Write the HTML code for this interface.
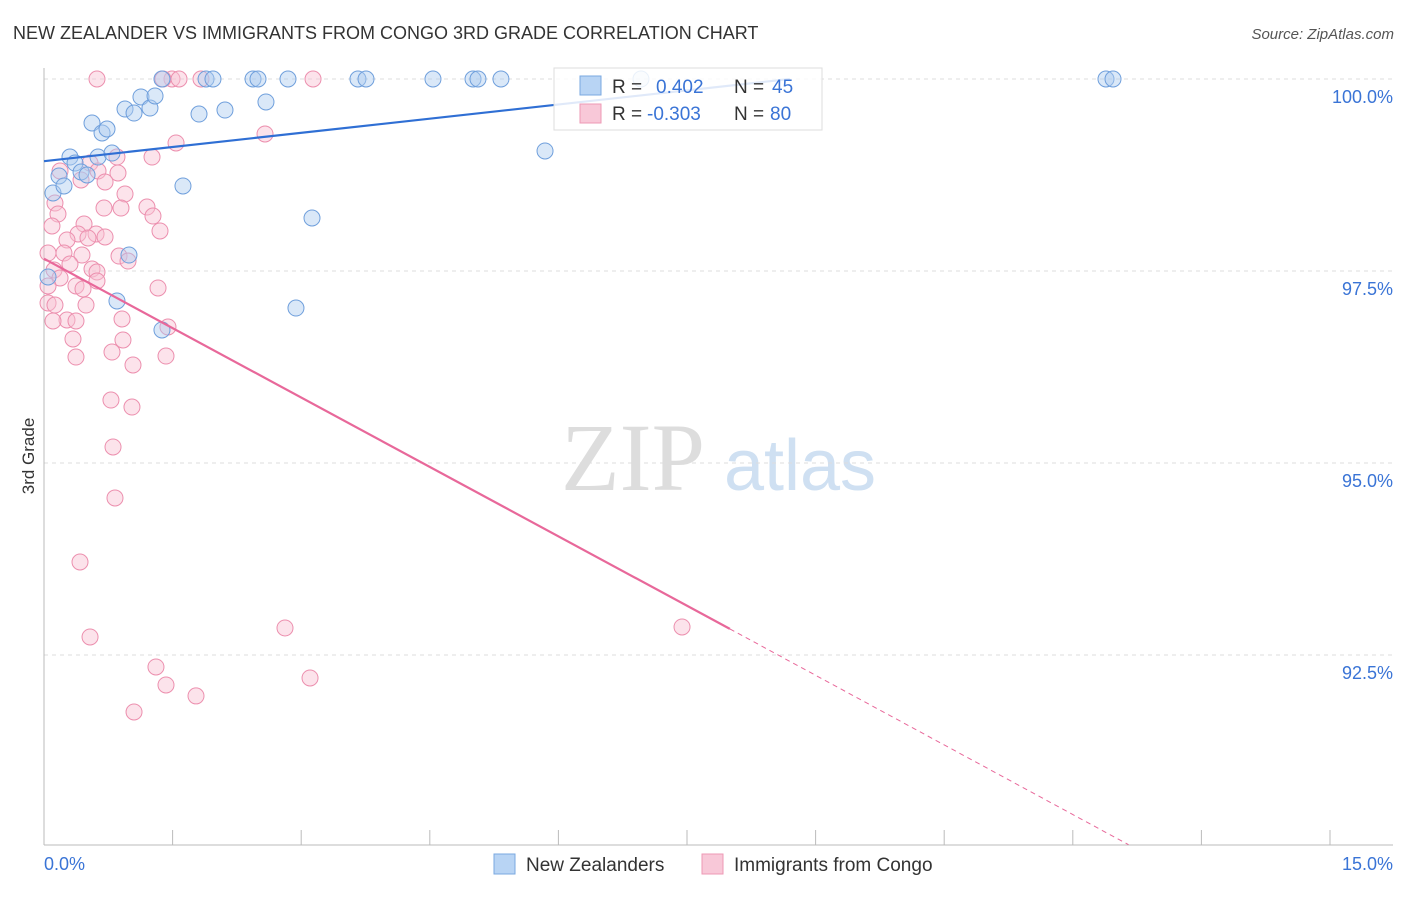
<!DOCTYPE html>
<html><head><meta charset="utf-8"><style>
body{margin:0;background:#fff;width:1406px;height:892px;overflow:hidden;font-family:"Liberation Sans",sans-serif}
</style></head><body>
<svg id="chart" width="1406" height="892">
<text x="13" y="39" font-size="18" fill="#333">NEW ZEALANDER VS IMMIGRANTS FROM CONGO 3RD GRADE CORRELATION CHART</text>
<text x="1394" y="39" font-size="15" fill="#555" text-anchor="end" font-style="italic">Source: ZipAtlas.com</text>
<text transform="translate(34,456) rotate(-90)" font-size="17" fill="#333" text-anchor="middle">3rd Grade</text>
<g><text x="633" y="490" font-size="96" font-family="Liberation Serif,serif" fill="#ddd" text-anchor="middle">ZIP</text><text x="800" y="490" font-size="72" fill="#cfe0f2" text-anchor="middle">atlas</text></g>
<g id="grid"></g><g id="axes"></g><g id="pts"></g><g id="lines"></g>
<g>
<rect x="554" y="68" width="268" height="62" fill="#fff" fill-opacity="0.85" stroke="#ddd"/>
<rect x="580" y="76" width="21" height="19" fill="#b8d4f4" stroke="#7aa8e0"/>
<rect x="580" y="104" width="21" height="19" fill="#f8c8d8" stroke="#ee99b5"/>
<text x="612" y="93" font-size="19" fill="#333">R =</text>
<text x="656" y="93" font-size="19" fill="#3a74d6">0.402</text>
<text x="734" y="93" font-size="19" fill="#333">N =</text>
<text x="772" y="93" font-size="19" fill="#3a74d6">45</text>
<text x="612" y="120" font-size="19" fill="#333">R =</text>
<text x="647" y="120" font-size="19" fill="#3a74d6">-0.303</text>
<text x="734" y="120" font-size="19" fill="#333">N =</text>
<text x="770" y="120" font-size="19" fill="#3a74d6">80</text>
</g>
<g>
<rect x="494" y="854" width="21" height="20" fill="#b8d4f4" stroke="#7aa8e0"/>
<text x="526" y="871" font-size="19" fill="#333">New Zealanders</text>
<rect x="702" y="854" width="21" height="20" fill="#f8c8d8" stroke="#ee99b5"/>
<text x="734" y="871" font-size="19" fill="#333">Immigrants from Congo</text>
</g>
</svg>
<script>
const yTicks=[100,97.5,95,92.5];
const yTickLabels=["100.0%","97.5%","95.0%","92.5%"];
const xTickLabels=["0.0%","15.0%"];
const blueX=[.105,.175,.233,.303,.362,.432,.502,.560,.630,.677,.735,.793,.945,1.050,1.131,1.236,1.295,1.376,1.621,1.808,1.890,1.971,2.111,2.438,2.496,2.589,2.846,3.126,2.939,3.662,3.756,4.537,5.004,5.062,5.330,5.844,6.963,12.387,12.469,.991,.851,1.376,.047];
const blueY=[98.516,98.737,98.607,98.984,98.906,98.789,98.750,99.427,98.984,99.297,99.349,99.036,99.609,99.557,99.766,99.622,99.779,100,98.607,99.544,100,100,99.596,100,100,99.701,100,98.190,97.018,100,100,100,100,100,100,99.063,100,100,100,97.708,97.110,96.732,97.422];
const pinkX=[.618,1.493,1.575,1.831,3.138,1.388,2.578,1.540,1.260,.851,.537,.187,.630,.863,.432,.712,.945,.128,.700,1.201,.898,.163,1.271,.467,.093,1.353,.397,.607,.712,.513,.268,.047,.233,.443,.875,.980,.303,.560,.117,.618,.187,.618,.373,.047,1.330,.455,.047,.128,.490,.910,.268,.105,.373,1.446,.338,.921,.793,1.423,.373,1.038,.781,1.026,.805,.828,.420,.537,2.811,7.442,1.306,1.423,3.103,1.773,1.050];
const pinkY=[100,100,100,100,100,100,99.284,99.167,98.984,98.984,98.906,98.802,98.802,98.776,98.685,98.659,98.503,98.385,98.320,98.333,98.320,98.242,98.216,98.112,98.086,98.021,97.982,97.982,97.943,97.930,97.904,97.734,97.734,97.708,97.695,97.630,97.591,97.526,97.513,97.487,97.409,97.370,97.305,97.305,97.279,97.266,97.084,97.057,97.057,96.875,96.862,96.849,96.849,96.771,96.615,96.602,96.445,96.393,96.380,96.276,95.820,95.729,95.209,94.545,93.711,92.735,92.852,92.865,92.344,92.110,92.201,91.967,91.758];
const blueTrend=[0,98.93,8.7,100.0];
const pinkTrend=[0,97.66,8.0,92.84,12.65,90.03];
const NS="http://www.w3.org/2000/svg";
const X=v=>44+v*1286/15, Y=v=>79+(100-v)*192/2.5;
function mk(p,t,a){const e=document.createElementNS(NS,t);for(const k in a)e.setAttribute(k,a[k]);document.getElementById(p).appendChild(e);return e;}
yTicks.forEach((t,i)=>{
 const g=mk('grid','line',{x1:44,x2:1393,y1:Y(t),y2:Y(t),stroke:'#ddd','stroke-dasharray':'4,4'});
 
 
 const l=mk('axes','text',{x:1393,y:Y(t)+24,'font-size':18,fill:'#3a74d6','text-anchor':'end'});l.textContent=yTickLabels[i];
 
 
});
mk('axes','line',{x1:44,x2:44,y1:68,y2:845,stroke:'#bbb'});
mk('axes','line',{x1:44,x2:1393,y1:845,y2:845,stroke:'#bbb'});
for(let i=0;i<=10;i++){const t=mk('axes','line',{x1:X(i*1.5),x2:X(i*1.5),y1:830,y2:845,stroke:'#bbb'});
 
 }
[[0,'start',44],[15,'end',1393]].forEach((d,i)=>{const l=mk('axes','text',{x:d[2],y:870,'font-size':18,fill:'#3a74d6','text-anchor':d[1]});l.textContent=xTickLabels[i];
 
 });
function pts(xs,ys,fill,stroke,name){xs.forEach((x,i)=>{const c=mk('pts','circle',{cx:X(x),cy:Y(ys[i]),r:8,fill:fill,'fill-opacity':0.45,stroke:stroke,'stroke-width':1});
 
 });}
pts(pinkX,pinkY,'#f9c0d2','#ec8fae','congo-point');
pts(blueX,blueY,'#aecbf0','#6f9fdc','new-zealander-point');
let b=mk('lines','line',{x1:X(blueTrend[0]),y1:Y(blueTrend[1]),x2:X(blueTrend[2]),y2:Y(blueTrend[3]),stroke:'#2f6fd4','stroke-width':2.2});


let p=mk('lines','line',{x1:X(pinkTrend[0]),y1:Y(pinkTrend[1]),x2:X(pinkTrend[2]),y2:Y(pinkTrend[3]),stroke:'#e8689a','stroke-width':2.2});


let pd=mk('lines','line',{x1:X(pinkTrend[2]),y1:Y(pinkTrend[3]),x2:X(pinkTrend[4]),y2:Y(pinkTrend[5]),stroke:'#e8689a','stroke-width':1,'stroke-dasharray':'5,4'});


</script>
</body></html>
